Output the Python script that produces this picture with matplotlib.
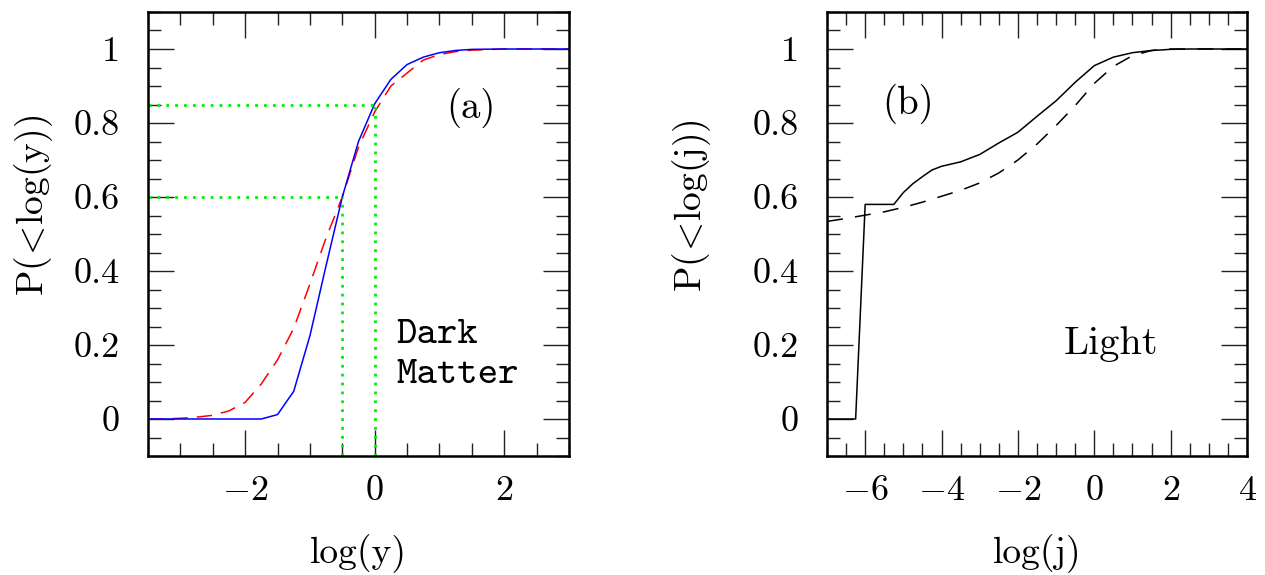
import matplotlib
matplotlib.use("Agg")
import matplotlib.pyplot as plt
from matplotlib.ticker import MultipleLocator, FixedLocator, FixedFormatter

plt.rcParams['font.family'] = ['cmr10', 'DejaVu Serif']
plt.rcParams['mathtext.fontset'] = 'cm'
plt.rcParams['axes.unicode_minus'] = False

# panel (a): dark matter, cumulative distribution of log(y)
dm_x_solid = [-3.5, -3.0, -2.5, -2.0, -1.75, -1.5, -1.25, -1.0, -0.75, -0.5, -0.25,
              0.0, 0.25, 0.5, 0.75, 1.0, 1.25, 1.5, 2.0, 2.5, 3.0]
dm_y_solid = [0, 0, 0, 0, 0, 0.012, 0.075, 0.225, 0.415, 0.6, 0.75,
              0.852, 0.918, 0.958, 0.978, 0.99, 0.996, 0.999, 1, 1, 1]
dm_x_dash = [-3.5, -3.25, -3.0, -2.75, -2.5, -2.25, -2.0, -1.75, -1.5, -1.25, -1.0,
             -0.75, -0.5, -0.25, 0.0, 0.25, 0.5, 0.75, 1.0, 1.25, 1.5, 2.0, 2.5, 3.0]
dm_y_dash = [0, 0, 0.002, 0.005, 0.01, 0.022, 0.045, 0.095, 0.16, 0.245, 0.365,
             0.49, 0.6, 0.735, 0.83, 0.9, 0.935, 0.97, 0.985, 0.993, 0.997, 1, 1, 1]
# green guide lines: (x, y) corners
guide_x = [-0.5, 0.0]
guide_y = [0.6, 0.85]

# panel (b): light, cumulative distribution of log(j)
lt_x_solid = [-7.0, -6.25, -6.0, -5.25, -5.0, -4.75, -4.5, -4.25, -4.0, -3.5, -3.0, -2.5,
              -2.0, -1.5, -1.0, -0.5, 0.0, 0.5, 1.0, 1.5, 2.0, 2.5, 3.0, 4.0]
lt_y_solid = [0, 0, 0.58, 0.58, 0.612, 0.636, 0.655, 0.673, 0.683, 0.695, 0.715, 0.746,
              0.775, 0.818, 0.86, 0.91, 0.955, 0.978, 0.99, 0.996, 0.999, 1, 1, 1]
lt_x_dash = [-7.0, -6.5, -6.0, -5.5, -5.0, -4.5, -4.0, -3.5, -3.0, -2.5, -2.0, -1.5,
             -1.0, -0.5, 0.0, 0.5, 1.0, 1.5, 2.0, 3.0, 4.0]
lt_y_dash = [0.534, 0.542, 0.551, 0.56, 0.572, 0.586, 0.602, 0.618, 0.638, 0.665, 0.7, 0.743,
             0.793, 0.847, 0.907, 0.953, 0.982, 0.996, 1, 1, 1]

y_ticks = [0, 0.2, 0.4, 0.6, 0.8, 1]
y_ticklabels = ['0', '0.2', '0.4', '0.6', '0.8', '1']
a_xticks = [-2, 0, 2]
a_xticklabels = [r'$-2$', r'$0$', r'$2$']
b_xticks = [-6, -4, -2, 0, 2, 4]
b_xticklabels = [r'$-6$', r'$-4$', r'$-2$', r'$0$', r'$2$', r'$4$']

FS = 26

fig = plt.figure(figsize=(12.65, 5.75), dpi=100)
ax1 = fig.add_axes([148 / 1265, 119 / 575, 421 / 1265, 444 / 575])
ax2 = fig.add_axes([827 / 1265, 119 / 575, 420 / 1265, 444 / 575])


def style(ax, xticks, xlabels, xminor):
    ax.set_ylim(-0.1, 1.1)
    ax.xaxis.set_major_locator(FixedLocator(xticks))
    ax.xaxis.set_major_formatter(FixedFormatter(xlabels))
    ax.xaxis.set_minor_locator(MultipleLocator(xminor))
    ax.yaxis.set_major_locator(FixedLocator(y_ticks))
    ax.yaxis.set_major_formatter(FixedFormatter(y_ticklabels))
    ax.yaxis.set_minor_locator(MultipleLocator(0.05))
    ax.tick_params(which='both', direction='in', top=True, right=True, width=1.0,
                   labelsize=FS, color='#222222')
    ax.tick_params(which='major', length=19, pad=14)
    ax.tick_params(which='minor', length=9.5)
    ax.tick_params(axis='y', which='major', pad=20)
    for s in ax.spines.values():
        s.set_linewidth(1.8)


style(ax1, a_xticks, a_xticklabels, 0.5)
ax1.set_xlim(-3.5, 3)
ax1.plot(dm_x_dash, dm_y_dash, color='red', lw=1.1, dashes=[10, 6])
ax1.plot(dm_x_solid, dm_y_solid, color='blue', lw=1.1)
for gx, gy in zip(guide_x, guide_y):
    ax1.plot([-3.5, gx], [gy, gy], color='#00ee00', lw=2.0, dashes=[1, 2.2])
    ax1.plot([gx, gx], [-0.1, gy], color='#00ee00', lw=2.0, dashes=[1, 2.2])
ax1.text(1.49, 0.84, '(a)', fontsize=28, ha='center', va='center')
ax1.text(0.33, 0.206, 'Dark', fontsize=28, family='cmtt10', ha='left', va='baseline')
ax1.text(0.33, 0.098, 'Matter', fontsize=28, family='cmtt10', ha='left', va='baseline')
ax1.set_xlabel('log(y)', fontsize=27)
ax1.set_ylabel(r'P($\!<\!$log(y))', fontsize=27)
ax1.xaxis.set_label_coords(0.5, -0.175)
ax1.yaxis.set_label_coords(-0.222, 0.565)

style(ax2, b_xticks, b_xticklabels, 0.5)
ax2.set_xlim(-7, 4)
ax2.plot(lt_x_dash, lt_y_dash, color='black', lw=1.1, dashes=[10.5, 8])
ax2.plot(lt_x_solid, lt_y_solid, color='black', lw=1.1)
ax2.text(-4.88, 0.852, '(b)', fontsize=28, ha='center', va='center')
ax2.text(0.43, 0.177, 'Light', fontsize=29, ha='center', va='baseline')
ax2.set_xlabel('log(j)', fontsize=27)
ax2.set_ylabel(r'P($\!<\!$log(j))', fontsize=27)
ax2.xaxis.set_label_coords(0.5, -0.175)
ax2.yaxis.set_label_coords(-0.272, 0.565)

fig.savefig('out.png', dpi=100)
